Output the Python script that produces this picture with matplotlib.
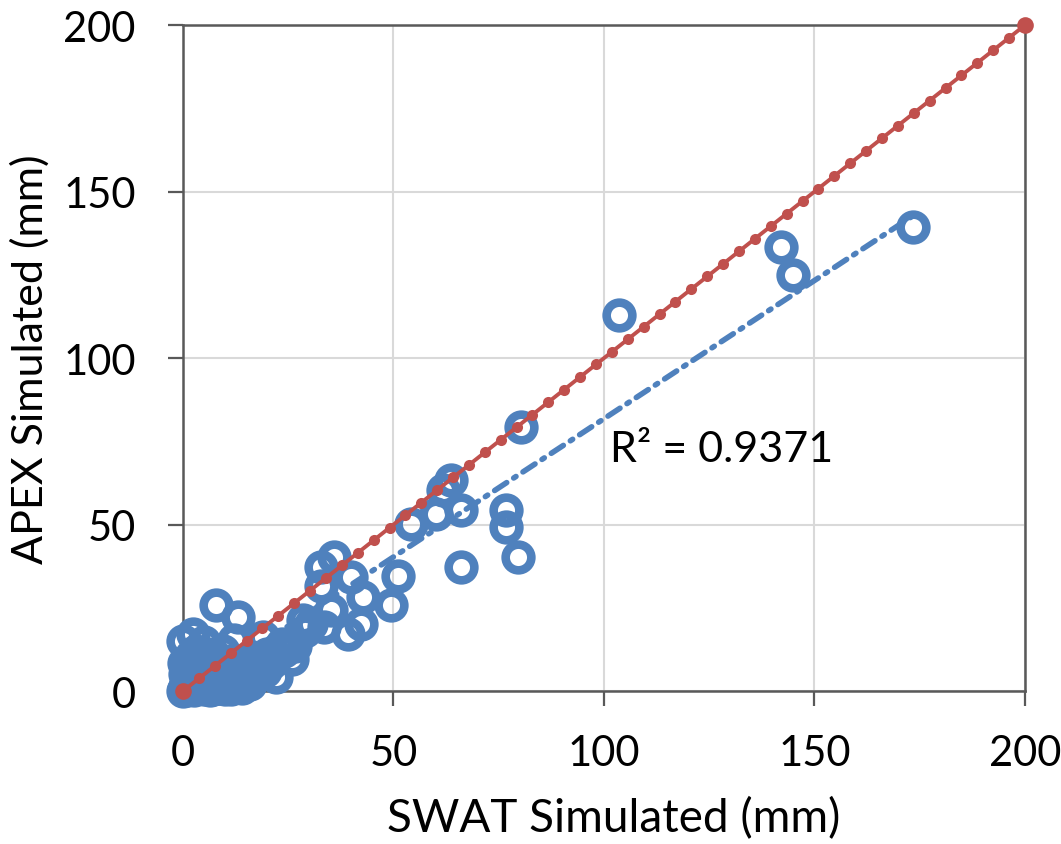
import numpy as np
import matplotlib
matplotlib.use("Agg")
import matplotlib.pyplot as plt

# SWAT vs APEX simulated values (mm)
swat = [173.4, 142.0, 144.8, 103.6, 80.3, 76.7, 76.7, 79.5, 66.0, 66.0,
        63.7, 61.7, 60.0, 54.2, 51.0, 49.4, 42.7, 42.3, 39.9, 35.9,
        32.8, 32.8, 39.1, 33.6, 35.2, 28.4, 30.5, 26.0, 23.5, 22.1,
        15.0, 7.0, 7.8, 13.0, 12.2, 0.0, 2.3, 3.1, 5.0, 16.5,
        18.9, 0.0, 0.5, 1.0, 2.0, 1.5, 3.0, 4.0, 5.0, 6.0,
        8.0, 9.0, 10.0, 11.0, 12.0, 13.0, 14.0, 2.0, 4.0, 6.0,
        8.0, 10.0, 17.0, 18.0, 20.0, 0.5, 1.0, 3.0, 9.5, 24.0,
        0.2, 0.8, 1.2, 2.5, 3.5, 4.5, 5.5, 6.5, 7.5, 8.5,
        9.0, 10.5, 11.5, 12.5, 14.5, 16.0, 0.3, 1.8, 3.8, 5.8,
        7.2, 9.8, 19.5, 21.0, 26.5, 29.0]
apex = [139.5, 133.5, 125.0, 113.0, 79.3, 54.3, 49.2, 40.2, 37.3, 54.3,
        63.3, 60.3, 53.3, 50.3, 34.7, 25.7, 28.2, 20.2, 34.3, 40.2,
        37.2, 31.7, 17.2, 19.2, 24.2, 21.2, 20.0, 9.6, 14.1, 4.3,
        2.4, 3.4, 25.7, 22.2, 15.4, 15.1, 17.1, 10.1, 14.6, 10.1,
        16.1, 0.0, 1.0, 0.3, 2.0, 4.0, 1.0, 3.0, 0.5, 2.0,
        1.0, 4.0, 0.5, 2.0, 6.0, 3.0, 1.0, 6.0, 7.0, 8.0,
        6.0, 9.0, 5.0, 8.0, 11.0, 5.0, 7.0, 12.0, 12.0, 12.0,
        0.5, 2.5, 5.5, 0.2, 5.0, 1.5, 4.0, 0.3, 3.0, 0.8,
        7.0, 3.5, 0.5, 2.5, 4.0, 2.0, 8.5, 10.5, 9.0, 11.0,
        0.5, 1.5, 6.0, 8.5, 13.5, 18.0]

# 1:1 reference line
line_ends = [0, 200]
line_dots = 54

r2_text = "R\u00b2 = 0.9371"

blue = "#4F81BD"
red = "#C0504D"
axis_grey = "#595959"

plt.rcParams["font.family"] = ["Lato", "DejaVu Sans"]

fig = plt.figure(figsize=(10.61, 8.45), dpi=100)
ax = fig.add_axes([0.1725, 0.181, 0.7935, 0.788])

ax.plot(swat, apex, linestyle="none", marker="o", markersize=18.5,
        markerfacecolor="none", markeredgecolor=blue, markeredgewidth=6.2,
        clip_on=False, zorder=3)

# linear trend line through the scatter
slope, intercept = np.polyfit(swat, apex, 1)
tx = np.array([min(swat), max(swat)])
ax.plot(tx, slope * tx + intercept, color=blue, linewidth=4,
        dashes=(2.6, 1.5, 0.5, 1.5), dash_capstyle="round",
        solid_capstyle="round", zorder=4)

xs = np.linspace(line_ends[0], line_ends[1], line_dots)
ax.plot(xs, xs, color=red, linewidth=2.8, marker="o", markersize=8,
        markeredgewidth=0, clip_on=False, zorder=5)
ax.plot(line_ends, line_ends, linestyle="none", marker="o", markersize=12,
        color=red, markeredgewidth=0, clip_on=False, zorder=6)

ax.text(101.4, 69.2, r2_text, fontsize=31, ha="left", va="baseline", zorder=7)

ax.set_xlim(0, 200)
ax.set_ylim(0, 200)
ax.set_xticks([0, 50, 100, 150, 200])
ax.set_yticks([0, 50, 100, 150, 200])
ax.grid(True, color="#D9D9D9", linewidth=1.5)
ax.set_axisbelow(True)
for sp in ax.spines.values():
    sp.set_color(axis_grey)
    sp.set_linewidth(1.8)
ax.tick_params(axis="both", direction="out", length=11, width=1.6,
               color=axis_grey, labelsize=30, pad=20)
ax.tick_params(axis="y", pad=23)

ax.set_xlabel("SWAT Simulated (mm)", fontsize=33)
ax.set_ylabel("APEX Simulated (mm)", fontsize=31)
ax.xaxis.set_label_coords(0.512, -0.158)
ax.yaxis.set_label_coords(-0.158, 0.5)

fig.savefig("out.png", dpi=100)
